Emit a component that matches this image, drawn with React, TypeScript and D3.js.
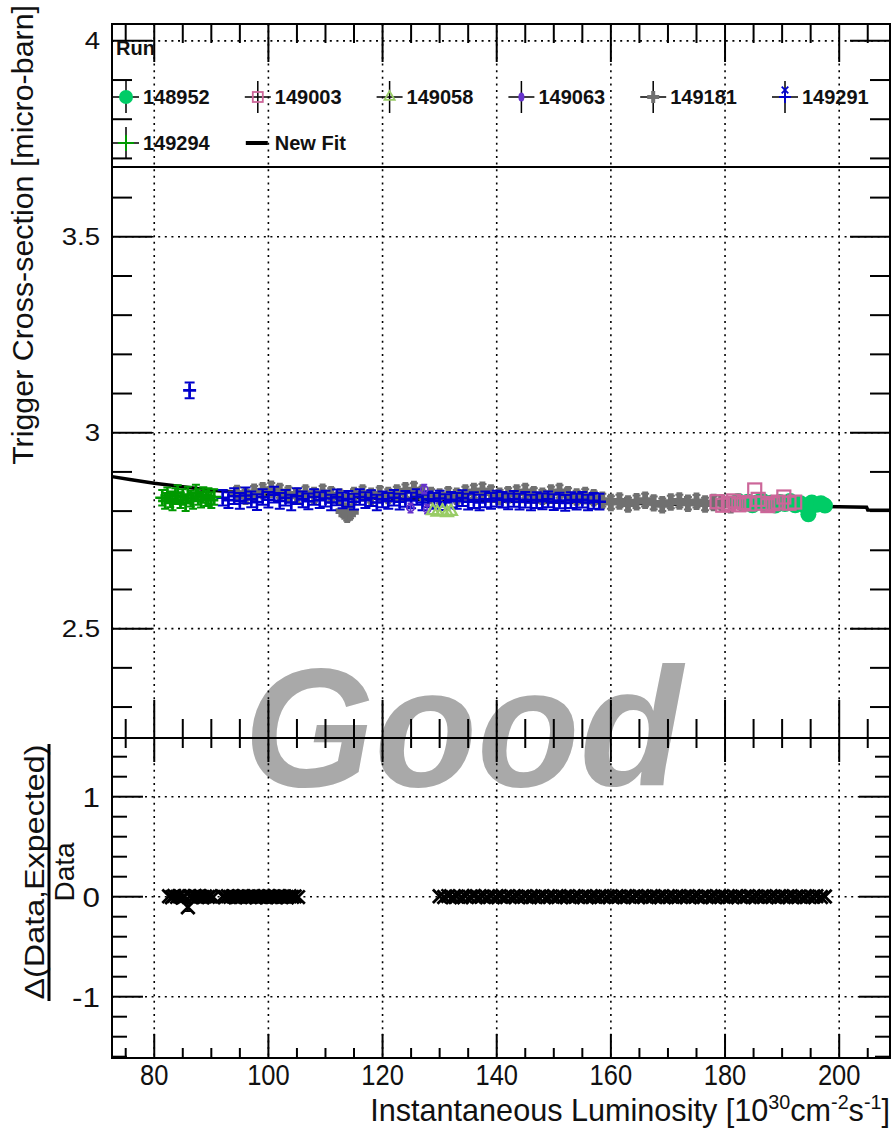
import React, { useEffect, useRef } from 'react';
import * as d3 from 'd3';

const W = 896;
const H = 1133;

// axis ranges read from the frame edges
const xRange = [72.6, 208.9];
const yTopRange = [2.221, 4.043];
const yBotRange = [-1.613, 1.587];

// legend
const runLabels = ['148952', '149003', '149058', '149063', '149181', '149291', '149294'];
const runColors = ['#00cc66', '#cc6699', '#99cc66', '#6633cc', '#707070', '#0000cc', '#009900'];

// "New Fit" curve
const fitX = [72.6, 76, 80, 85, 90, 100, 110, 120, 130, 140, 150, 160, 170, 180, 190, 200, 204.8, 205, 208.9];
const fitY = [2.888, 2.880, 2.871, 2.862, 2.853, 2.843, 2.837, 2.832, 2.829, 2.826, 2.823, 2.821, 2.818, 2.816, 2.813, 2.811, 2.810, 2.803, 2.802];

// run 148952 - green circles
const run148952 = [
  [182.3, 2.826], [183.2, 2.818], [184.0, 2.824], [184.8, 2.815], [185.6, 2.822], [186.4, 2.828], [187.2, 2.816],
  [188.0, 2.821], [188.8, 2.814], [189.6, 2.823], [190.5, 2.818], [191.4, 2.826], [192.3, 2.815], [193.2, 2.820],
  [194.1, 2.812], [194.6, 2.792], [195.2, 2.822], [196.0, 2.816], [196.8, 2.820], [197.5, 2.814],
];

// run 149003 - open squares
const run149003 = [
  [178.6, 2.824], [179.6, 2.815], [180.6, 2.820], [181.5, 2.826], [182.4, 2.816], [183.3, 2.822], [184.2, 2.818],
  [185.2, 2.854], [185.8, 2.830], [186.6, 2.820], [187.5, 2.814], [188.4, 2.819], [189.3, 2.823], [190.3, 2.836],
  [191.2, 2.820], [192.2, 2.823],
];

// run 149058 - open triangles
const run149058 = [[128.8, 2.801], [129.6, 2.797], [130.5, 2.800], [131.3, 2.796], [132.0, 2.799]];

// run 149063 - purple
const run149063 = [[124.9, 2.808], [127.3, 2.856], [127.8, 2.805]];

// run 149181 - grey crosses
const run149181 = [
  [94.5, 2.845], [96, 2.838], [97.5, 2.848], [99, 2.852], [100.5, 2.856], [102, 2.850], [103.5, 2.844], [105, 2.838],
  [106.5, 2.846], [108, 2.840], [109.5, 2.848], [111, 2.842], [112.5, 2.836], [113.3, 2.800], [113.8, 2.792],
  [114.3, 2.798], [115, 2.840], [116.5, 2.846], [118, 2.838], [119.5, 2.844], [121, 2.840], [122.5, 2.846],
  [124, 2.852], [125.5, 2.855], [127, 2.846], [128.5, 2.840], [130, 2.836], [131.5, 2.842], [133, 2.838],
  [134.5, 2.846], [136, 2.850], [137.5, 2.853], [139, 2.846], [140.5, 2.838], [142, 2.842], [143.5, 2.846],
  [145, 2.850], [146.5, 2.842], [148, 2.838], [149.5, 2.846], [151, 2.850], [152.5, 2.842], [154, 2.836],
  [155.5, 2.840], [157, 2.834], [158.5, 2.828], [160, 2.822], [161.5, 2.826], [163, 2.818], [164.5, 2.824],
  [166, 2.828], [167.5, 2.821], [169, 2.816], [170.5, 2.823], [172, 2.826], [173.5, 2.820], [175, 2.825],
  [176.5, 2.818], [178, 2.822], [179.5, 2.820], [181, 2.816],
];

// run 149291 - blue
const run149291 = [
  [86.2, 3.108],
  [92, 2.834], [93, 2.828], [94, 2.838], [95, 2.826], [96, 2.840], [97, 2.830], [98, 2.823], [99, 2.836], [100, 2.829],
  [101, 2.842], [102, 2.826], [103, 2.834], [104, 2.822], [105, 2.838], [106, 2.830], [107, 2.825], [108, 2.836],
  [109, 2.828], [110, 2.832], [111, 2.822], [112, 2.835], [113, 2.827], [114, 2.831], [115, 2.824], [116, 2.836],
  [117, 2.828], [118, 2.833], [119, 2.822], [120, 2.830], [121, 2.826], [122, 2.834], [123, 2.824], [124, 2.831],
  [125, 2.827], [126, 2.836], [127, 2.822], [128, 2.830], [129, 2.826], [130, 2.832], [131, 2.823], [132, 2.829],
  [133, 2.826], [134, 2.833], [135, 2.824], [136, 2.828], [137, 2.822], [138, 2.830], [139, 2.826], [140, 2.832],
  [141, 2.829], [142, 2.825], [143, 2.831], [144, 2.824], [145, 2.829], [146, 2.822], [147, 2.828], [148, 2.825],
  [149, 2.830], [150, 2.823], [151, 2.827], [152, 2.821], [153, 2.828], [154, 2.824], [155, 2.829], [156, 2.822],
  [157, 2.826], [158, 2.824],
];

// run 149294 - green plus
const run149294 = [
  [81.4, 2.834], [81.9, 2.826], [82.3, 2.840], [82.8, 2.830], [83.2, 2.822], [83.7, 2.838], [84.1, 2.846],
  [84.6, 2.828], [85.0, 2.836], [85.5, 2.820], [85.9, 2.842], [86.4, 2.832], [86.8, 2.826], [87.3, 2.847],
  [87.7, 2.836], [88.2, 2.829], [88.6, 2.841], [89.1, 2.833], [89.5, 2.838], [90.0, 2.828], [90.5, 2.836],
];

// lower pad: (data - expected) / data
const ratioA = [
  [82.6, 0.004], [83.1, -0.006], [83.5, 0.008], [84.0, -0.002], [84.4, 0.006], [84.9, -0.008], [85.3, 0.002],
  [85.9, -0.105], [86.2, 0.005], [86.7, -0.004], [87.1, 0.007], [87.6, -0.003], [88.0, 0.004], [88.5, -0.006],
  [88.9, 0.003], [89.4, -0.002], [89.8, 0.005], [90.3, -0.004],
];
const ratioB = [
  [92.0, 0.003], [92.45, -0.004], [92.9, 0.005], [93.35, -0.002], [93.8, 0.004], [94.25, -0.005], [94.7, 0.002],
  [95.15, -0.003], [95.6, 0.006], [96.05, -0.004], [96.5, 0.003], [96.95, -0.002], [97.4, 0.005], [97.85, -0.006],
  [98.3, 0.002], [98.75, -0.003], [99.2, 0.004], [99.65, -0.005], [100.1, 0.006], [100.55, -0.002], [101.0, 0.003],
  [101.45, -0.004], [101.9, 0.005], [102.35, -0.003], [102.8, 0.002], [103.25, -0.006], [103.7, 0.004],
  [104.15, -0.002], [104.6, 0.003], [105.2, -0.004],
];
const ratioC = [
  [130.0, 0.004], [130.8, -0.003], [131.5, 0.006], [132.3, -0.005], [133.0, 0.002], [133.8, -0.006], [134.5, 0.005],
  [135.3, -0.002], [136.0, 0.007], [136.8, -0.004], [137.5, 0.003], [138.3, -0.006], [139.0, 0.005], [139.8, -0.003],
  [140.5, 0.004], [141.3, -0.005], [142.0, 0.006], [142.8, -0.002], [143.5, 0.003], [144.3, -0.004], [145.0, 0.005],
  [145.8, -0.006], [146.5, 0.002], [147.3, -0.003], [148.0, 0.006], [148.8, -0.004], [149.5, 0.003], [150.3, -0.005],
  [151.0, 0.004], [151.8, -0.002], [152.5, 0.005], [153.3, -0.006], [154.0, 0.003], [154.8, -0.004], [155.5, 0.006],
  [156.3, -0.003], [157.0, 0.002], [157.8, -0.005], [158.5, 0.004], [159.3, -0.002], [160.0, 0.005], [160.8, -0.004],
  [161.5, 0.003], [162.3, -0.006], [163.0, 0.004], [163.8, -0.003], [164.5, 0.006], [165.3, -0.002], [166.0, 0.003],
  [166.8, -0.005], [167.5, 0.004], [168.3, -0.003], [169.0, 0.005], [169.8, -0.004], [170.5, 0.002], [171.3, -0.006],
  [172.0, 0.004], [172.8, -0.002], [173.5, 0.005], [174.3, -0.003], [175.0, 0.003], [175.8, -0.005], [176.5, 0.006],
  [177.3, -0.004], [178.0, 0.002], [178.8, -0.003], [179.5, 0.005], [180.3, -0.006], [181.0, 0.003], [181.8, -0.002],
  [182.5, 0.004], [183.3, -0.005], [184.0, 0.006], [184.8, -0.003], [185.5, 0.002], [186.3, -0.004], [187.0, 0.005],
  [187.8, -0.002], [188.5, 0.003], [189.3, -0.006], [190.0, 0.004], [190.8, -0.003], [191.5, 0.005], [192.3, -0.004],
  [193.0, 0.002], [193.8, -0.005], [194.5, 0.003], [195.3, -0.002], [196.0, 0.004], [196.8, -0.003], [197.5, 0.002],
];

// pad geometry
const L = 112, R = 890, T = 24, M = 738, B = 1058;
const FONT = '"Liberation Sans", Arial, Helvetica, sans-serif';

function App() {
  const svgRef = useRef(null);

  useEffect(() => {
    const svg = d3.select(svgRef.current);
    svg.selectAll('*').remove();

    const x = d3.scaleLinear().domain(xRange).range([L, R]);
    const yT = d3.scaleLinear().domain(yTopRange).range([M, T]);
    const yB = d3.scaleLinear().domain(yBotRange).range([B, M]);

    svg.append('rect').attr('width', W).attr('height', H).attr('fill', '#fff');

    // watermark
    svg.append('text')
      .attr('x', 463).attr('y', 786)
      .attr('text-anchor', 'middle')
      .attr('font-family', FONT).attr('font-size', 168)
      .attr('font-weight', 'bold').attr('font-style', 'italic')
      .attr('fill', '#a9a9a9')
      .text('Good');

    // grid
    const grid = svg.append('g')
      .attr('stroke', '#000').attr('stroke-width', 1.6)
      .attr('stroke-dasharray', '2,4.6').attr('fill', 'none');
    x.ticks(7).forEach(v => {
      grid.append('line').attr('x1', x(v)).attr('x2', x(v)).attr('y1', T).attr('y2', B);
    });
    yT.ticks(4).forEach(v => {
      grid.append('line').attr('x1', L).attr('x2', R).attr('y1', yT(v)).attr('y2', yT(v));
    });
    yB.ticks(3).forEach(v => {
      grid.append('line').attr('x1', L).attr('x2', R).attr('y1', yB(v)).attr('y2', yB(v));
    });

    // ticks
    const ticks = svg.append('g').attr('stroke', '#000').attr('stroke-width', 2);
    const xMajor = x.ticks(7);
    function xTicks(y0, dir, major, minor) {
      x.ticks(28).forEach(v => {
        const len = xMajor.includes(v) ? major : minor;
        ticks.append('line').attr('x1', x(v)).attr('x2', x(v)).attr('y1', y0).attr('y2', y0 + dir * len);
      });
    }
    xTicks(T, 1, 38, 19);
    xTicks(M, -1, 38, 19);
    xTicks(M, 1, 24, 10);
    xTicks(B, -1, 24, 10);

    function yTicks(scale, minorCount, step, major, minor) {
      scale.ticks(minorCount).forEach(v => {
        const isMajor = Math.abs(v / step - Math.round(v / step)) < 1e-6;
        const len = isMajor ? major : minor;
        const yy = scale(v);
        ticks.append('line').attr('x1', L).attr('x2', L + len).attr('y1', yy).attr('y2', yy);
        ticks.append('line').attr('x1', R).attr('x2', R - len).attr('y1', yy).attr('y2', yy);
      });
    }
    yTicks(yT, 18, 0.5, 40, 20);
    yTicks(yB, 16, 1, 31, 15);

    // tick labels
    const labels = svg.append('g').attr('font-family', FONT).attr('fill', '#111');
    xMajor.forEach(v => {
      labels.append('text')
        .attr('transform', `translate(${x(v)},1085) scale(0.85,1)`)
        .attr('text-anchor', 'middle').attr('font-size', 30)
        .text(v);
    });
    yT.ticks(4).forEach(v => {
      labels.append('text')
        .attr('transform', `translate(100,${yT(v) + 8.5}) scale(1.15,1)`)
        .attr('text-anchor', 'end').attr('font-size', 24)
        .text(String(v));
    });
    yB.ticks(3).forEach(v => {
      labels.append('text')
        .attr('transform', `translate(100,${yB(v) + 10}) scale(1.12,1)`)
        .attr('text-anchor', 'end').attr('font-size', 28)
        .text(String(v));
    });

    // axis titles
    const xt = svg.append('text')
      .attr('font-family', FONT).attr('font-size', 31).attr('fill', '#111')
      .attr('text-anchor', 'end');
    xt.append('tspan').text('Instantaneous Luminosity [10');
    xt.append('tspan').attr('font-size', 20).attr('dy', -12).text('30');
    xt.append('tspan').attr('dy', 12).text('cm');
    xt.append('tspan').attr('font-size', 20).attr('dy', -12).text('-2');
    xt.append('tspan').attr('dy', 12).text('s');
    xt.append('tspan').attr('font-size', 20).attr('dy', -12).text('-1');
    xt.append('tspan').attr('dy', 12).text(']');
    const xtLen = xt.node().getComputedTextLength();
    xt.attr('transform', `translate(${R},1121) scale(${520 / xtLen},1)`);

    const yt = svg.append('text')
      .attr('font-family', FONT).attr('font-size', 30).attr('fill', '#111')
      .attr('text-anchor', 'end')
      .text('Trigger Cross-section [micro-barn]');
    const ytLen = yt.node().getComputedTextLength();
    yt.attr('transform', `translate(33,5) rotate(-90) scale(${460 / ytLen},1)`);

    const num = svg.append('text')
      .attr('font-family', FONT).attr('font-size', 28).attr('fill', '#111')
      .attr('text-anchor', 'middle')
      .text('\u0394(Data,Expected)');
    const numLen = num.node().getComputedTextLength();
    num.attr('transform', `translate(44,872) rotate(-90) scale(${255 / numLen},1)`);
    svg.append('line').attr('x1', 49).attr('x2', 49).attr('y1', 744).attr('y2', 1001)
      .attr('stroke', '#000').attr('stroke-width', 3);
    svg.append('text')
      .attr('font-family', FONT).attr('font-size', 28).attr('fill', '#111')
      .attr('text-anchor', 'middle')
      .attr('transform', 'translate(74,872) rotate(-90)')
      .text('Data');

    // fit curve
    const fitLine = d3.line().x(d => x(d[0])).y(d => yT(d[1]));
    svg.append('path')
      .datum(fitX.map((v, i) => [v, fitY[i]]))
      .attr('d', fitLine)
      .attr('fill', 'none').attr('stroke', '#000').attr('stroke-width', 3.5);

    const plot = svg.append('g');

    function errBar(cx, y1, y2, color, cap, w) {
      plot.append('path')
        .attr('d', `M${cx},${y1}V${y2}M${cx - cap},${y1}H${cx + cap}M${cx - cap},${y2}H${cx + cap}`)
        .attr('stroke', color).attr('stroke-width', w).attr('fill', 'none');
    }
    function plus(g, cx, cy, half, color, w) {
      g.append('path')
        .attr('d', `M${cx - half},${cy}H${cx + half}M${cx},${cy - half}V${cy + half}`)
        .attr('stroke', color).attr('stroke-width', w).attr('fill', 'none');
    }

    // grey 149181
    run149181.forEach(d => {
      errBar(x(d[0]), yT(d[1] - 0.016), yT(d[1] + 0.016), runColors[4], 4, 2);
      plot.append('path')
        .attr('d', d3.symbol(d3.symbolCross, 170)())
        .attr('transform', `translate(${x(d[0])},${yT(d[1])})`)
        .attr('fill', runColors[4]);
    });

    // blue 149291
    run149291.forEach(d => {
      errBar(x(d[0]), yT(d[1] - 0.02), yT(d[1] + 0.02), runColors[5], 5, 2);
      plus(plot, x(d[0]), yT(d[1]), 6.5, runColors[5], 2.6);
    });

    // green 149294
    run149294.forEach(d => {
      errBar(x(d[0]), yT(d[1] - 0.02), yT(d[1] + 0.02), runColors[6], 4, 2);
      plus(plot, x(d[0]), yT(d[1]), 7, runColors[6], 2.6);
    });

    // purple 149063
    run149063.forEach(d => {
      errBar(x(d[0]), yT(d[1] - 0.012), yT(d[1] + 0.012), runColors[3], 3, 1.5);
      plot.append('circle').attr('cx', x(d[0])).attr('cy', yT(d[1])).attr('r', 3.5)
        .attr('fill', 'none').attr('stroke', runColors[3]).attr('stroke-width', 1.8);
    });

    // light green 149058
    run149058.forEach(d => {
      plot.append('path')
        .attr('d', d3.symbol(d3.symbolTriangle, 60)())
        .attr('transform', `translate(${x(d[0])},${yT(d[1])})`)
        .attr('fill', 'none').attr('stroke', runColors[2]).attr('stroke-width', 2.2);
    });

    // green circles 148952
    run148952.forEach(d => {
      plot.append('circle').attr('cx', x(d[0])).attr('cy', yT(d[1])).attr('r', 8)
        .attr('fill', runColors[0]);
    });

    // pink squares 149003
    run149003.forEach(d => {
      plot.append('rect')
        .attr('x', x(d[0]) - 6.5).attr('y', yT(d[1]) - 6.5)
        .attr('width', 13).attr('height', 13)
        .attr('fill', 'none').attr('stroke', runColors[1]).attr('stroke-width', 2.2);
    });

    // ratio pad
    const cross = d3.symbol(d3.symbolX, 120)();
    [ratioA, ratioB, ratioC].forEach(series => {
      series.forEach(d => {
        if (Math.abs(d[1]) > 0.05) {
          errBar(x(d[0]), yB(d[1] - 0.04), yB(d[1] + 0.04), '#000', 3, 1.8);
        }
        plot.append('path').attr('d', cross)
          .attr('transform', `translate(${x(d[0])},${yB(d[1])})`)
          .attr('fill', 'none').attr('stroke', '#000').attr('stroke-width', 2.8);
      });
    });

    // frames
    svg.append('rect').attr('x', L).attr('y', T).attr('width', R - L).attr('height', M - T)
      .attr('fill', 'none').attr('stroke', '#000').attr('stroke-width', 2);
    svg.append('rect').attr('x', L).attr('y', M).attr('width', R - L).attr('height', B - M)
      .attr('fill', 'none').attr('stroke', '#000').attr('stroke-width', 2);

    // legend
    const leg = svg.append('g').attr('font-family', FONT).attr('font-weight', 'bold').attr('font-size', 20);
    leg.append('line').attr('x1', L).attr('x2', R).attr('y1', 167).attr('y2', 167)
      .attr('stroke', '#000').attr('stroke-width', 2);
    leg.append('text').attr('x', 116).attr('y', 55).attr('fill', '#111').text('Run');

    const colX = d3.scaleLinear().domain([0, 5]).range([126, 785]);
    const rowY = [97, 143];
    const entries = runLabels.map((label, i) => ({
      label, color: runColors[i], col: i < 6 ? i : 0, row: i < 6 ? 0 : 1, idx: i,
    }));
    entries.forEach(e => {
      const cx = colX(e.col), cy = rowY[e.row];
      leg.append('path')
        .attr('d', `M${cx},${cy - 16}V${cy + 16}M${cx - 13},${cy}H${cx + 13}`)
        .attr('stroke', '#000').attr('stroke-width', 1.5);
      const g = leg.append('g').attr('transform', `translate(${cx},${cy})`);
      if (e.idx === 0) g.append('circle').attr('r', 7).attr('fill', e.color);
      if (e.idx === 1) g.append('rect').attr('x', -5).attr('y', -5).attr('width', 10).attr('height', 10)
        .attr('fill', 'none').attr('stroke', e.color).attr('stroke-width', 1.8);
      if (e.idx === 2) g.append('path').attr('d', d3.symbol(d3.symbolTriangle, 45)())
        .attr('fill', 'none').attr('stroke', e.color).attr('stroke-width', 1.8);
      if (e.idx === 3) g.append('ellipse').attr('rx', 3).attr('ry', 4.5).attr('fill', e.color);
      if (e.idx === 4) g.append('path').attr('d', d3.symbol(d3.symbolCross, 80)()).attr('fill', e.color);
      if (e.idx === 5) g.append('path').attr('d', d3.symbol(d3.symbolX, 30)()).attr('transform', 'translate(0,-7)')
        .attr('stroke', e.color).attr('stroke-width', 1.8);
      if (e.idx === 5) plus(g, 0, 0, 6, e.color, 1.8);
      if (e.idx === 6) plus(g, 0, 0, 8, e.color, 2);
      leg.append('text').attr('x', cx + 17).attr('y', cy + 7).attr('fill', '#111').text(e.label);
    });
    // New Fit entry
    const fx = colX(1), fy = rowY[1];
    leg.append('line').attr('x1', fx - 12).attr('x2', fx + 10).attr('y1', fy).attr('y2', fy)
      .attr('stroke', '#000').attr('stroke-width', 4);
    leg.append('text').attr('x', fx + 17).attr('y', fy + 7).attr('fill', '#111').text('New Fit');

    return () => { svg.selectAll('*').remove(); };
  }, []);

  return (
    <svg ref={svgRef} width={W} height={H}
      style={{ position: 'absolute', left: 0, top: 0, display: 'block' }} />
  );
}

export default App;
